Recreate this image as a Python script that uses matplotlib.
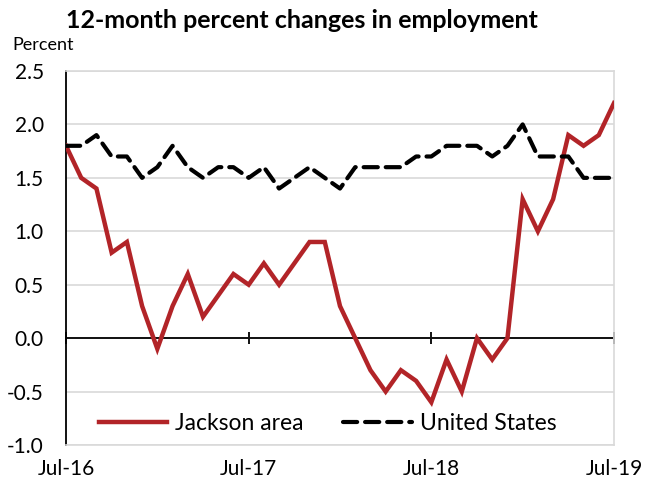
import matplotlib
matplotlib.use("Agg")
import matplotlib.pyplot as plt
import numpy as np

plt.rcParams['font.family'] = ['Lato', 'DejaVu Sans']

months = list(range(37))
tick_pos = [0, 12, 24, 36]
tick_labels = ["Jul-16", "Jul-17", "Jul-18", "Jul-19"]

jackson = [1.8, 1.5, 1.4, 0.8, 0.9, 0.3, -0.1, 0.3, 0.6, 0.2, 0.4, 0.6,
           0.5, 0.7, 0.5, 0.7, 0.9, 0.9, 0.3, 0.0, -0.3, -0.5, -0.3, -0.4,
           -0.6, -0.2, -0.5, 0.0, -0.2, 0.0, 1.3, 1.0, 1.3, 1.9, 1.8, 1.9, 2.2]
us = [1.8, 1.8, 1.9, 1.7, 1.7, 1.5, 1.6, 1.8, 1.6, 1.5, 1.6, 1.6,
      1.5, 1.6, 1.4, 1.5, 1.6, 1.5, 1.4, 1.6, 1.6, 1.6, 1.6, 1.7,
      1.7, 1.8, 1.8, 1.8, 1.7, 1.8, 2.0, 1.7, 1.7, 1.7, 1.5, 1.5, 1.5]
yticks = [-1.0, -0.5, 0.0, 0.5, 1.0, 1.5, 2.0, 2.5]

fig = plt.figure(figsize=(6.45, 4.79), dpi=100)
ax = fig.add_axes([66/645, 1-445/479, (614-66)/645, (445-71)/479])

ax.set_xlim(0, 36)
ax.set_ylim(-1.0, 2.5)
ax.set_yticks(yticks)
ax.set_yticklabels([f"{v:.1f}" for v in yticks], fontsize=15)
ax.grid(axis='y', color='#d9d9d9', linewidth=1.2)
ax.set_axisbelow(True)
ax.axhline(0, color='black', linewidth=1.3, zorder=2)

ax.plot(months, jackson, color='#B22428', linewidth=3.2, label='Jackson area', zorder=3,
        solid_joinstyle='miter')
ax.plot(months, us, color='black', linewidth=3.0, linestyle=(0, (3.4, 1.9)),
        label='United States', zorder=4, dash_capstyle='round')

ax.set_xticks(tick_pos)
ax.set_xticklabels(tick_labels, fontsize=15)
ax.tick_params(axis='x', length=0, pad=10)
ax.tick_params(axis='y', length=0, pad=16)

for s in ['top', 'right', 'bottom']:
    ax.spines[s].set_color('#d9d9d9')
    ax.spines[s].set_linewidth(1.2)
ax.spines['left'].set_color('black')
ax.spines['left'].set_linewidth(1.3)

sec = ax.secondary_xaxis(1.0/3.5)
sec.set_xticks(tick_pos)
sec.set_xticklabels([])
sec.tick_params(axis='x', direction='inout', length=8, width=1.3, color='black')
sec.spines['bottom'].set_visible(False)

leg = ax.legend(loc='lower left', bbox_to_anchor=(0.022, -0.025), ncol=2, frameon=False,
                fontsize=16.5, handlelength=3.0, columnspacing=1.7, handletextpad=0.35)

fig.text(302/645, 1-20/479, "12-month percent changes in employment", ha='center', va='center',
         fontsize=18, fontweight='bold')
fig.text(12/645, 1-45/479, "Percent", ha='left', va='center', fontsize=13)

fig.savefig("out.png", dpi=100)
